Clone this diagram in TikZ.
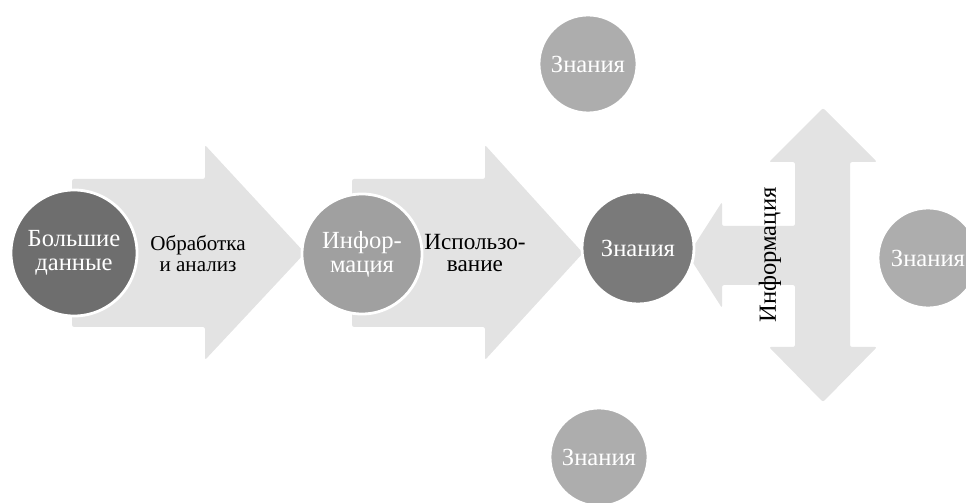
\documentclass[tikz,border=0pt]{standalone}
\usepackage{fontspec}
\setmainfont{Liberation Serif}
\usepackage{tikz}
\usetikzlibrary{positioning}

\definecolor{arrgray}{HTML}{E3E3E3}
\definecolor{darkgray}{HTML}{6E6E6E}
\definecolor{midgray}{HTML}{7A7A7A}
\definecolor{infogray}{HTML}{A0A0A0}
\definecolor{lightgray}{HTML}{ADADAD}

\begin{document}
\begin{tikzpicture}[x=0.025cm, y=-0.025cm,
  flow/.style={fill=arrgray, rounded corners=1.5pt},
  circ/.style={circle, draw=white, line width=2pt, inner sep=0pt,
               text=white, align=center, font=\fontsize{17.5}{17}\selectfont},
  lbl/.style={align=center, text=black},
]
\clip (0,0) rectangle (966,503);

% Arrows
\fill[flow] (72,179) -- (205,179) -- (205,145) -- (305,253) -- (205,360)
  -- (205,327) -- (72,327) -- cycle;
\fill[flow] (352,179) -- (485,179) -- (485,145) -- (583,253) -- (485,360)
  -- (485,327) -- (352,327) -- cycle;
\fill[flow] (823,108) -- (877,162) -- (850,162) -- (850,347) -- (877,347)
  -- (823,402) -- (769,347) -- (795,347) -- (795,285) -- (722,285)
  -- (722,308) -- (688,255) -- (722,202) -- (722,226) -- (795,226)
  -- (795,162) -- (769,162) -- cycle;

% Circles
\node[circ, fill=darkgray, minimum size=3.15cm] (bd) at (74,253) {Большие\\данные};
\node[circ, fill=infogray, minimum size=3cm] (inf) at (362,254) {Инфор-\\мация};
\node[circ, fill=midgray, minimum size=2.8cm] (kn) at (638,248) {Знания};
\node[circ, fill=lightgray, minimum size=2.45cm] (knt) at (588,64) {Знания};
\node[circ, fill=lightgray, minimum size=2.45cm] (knb) at (599,457) {Знания};
\node[circ, fill=lightgray, minimum size=2.5cm] (knr) at (928,258) {Знания};

% Labels
\node[lbl, font=\fontsize{15}{15}\selectfont] (proc) at (198,254) {Обработка\\и анализ};
\node[lbl, font=\fontsize{16.5}{16}\selectfont] (use) at (475,253) {Использо-\\вание};
\node[lbl, rotate=90, font=\fontsize{17.5}{19}\selectfont] (infv) at (770,255) {Информация};
\end{tikzpicture}
\end{document}
